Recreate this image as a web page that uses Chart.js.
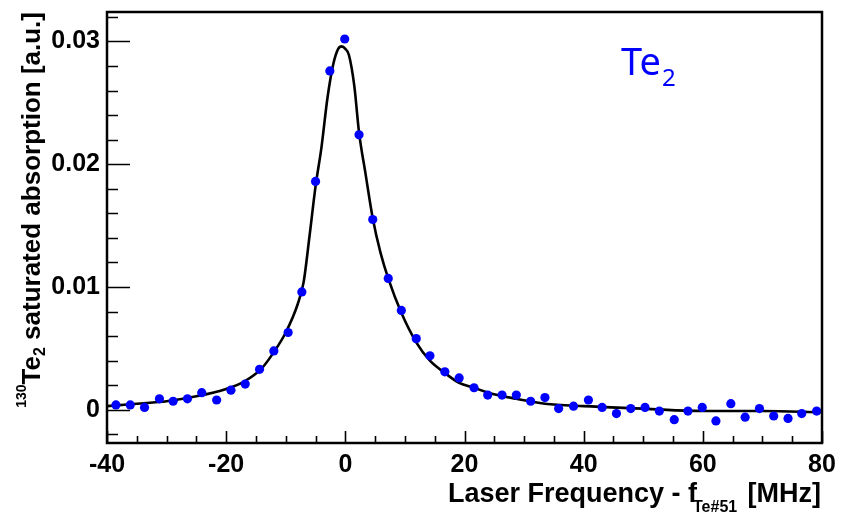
<!DOCTYPE html>
<html>
<head>
<meta charset="utf-8">
<script src="https://cdn.jsdelivr.net/npm/chart.js@4.4.0/dist/chart.umd.min.js"></script>
<style>
  html, body { margin: 0; padding: 0; background: #fff; }
  #wrap { width: 845px; height: 519px; }
</style>
</head>
<body>
<div id="wrap"><canvas id="chart" width="845" height="519"></canvas></div>
<script>
// measured points (frequency offset in MHz, absorption in a.u.)
const freq = [-38.5, -36.1, -33.7, -31.2, -28.9, -26.5, -24.1, -21.6, -19.2, -16.8,
  -14.4, -12.0, -9.6, -7.3, -5.0, -2.6, -0.1, 2.3, 4.6, 7.2,
  9.4, 11.9, 14.2, 16.7, 19.1, 21.6, 23.9, 26.3, 28.7, 31.1,
  33.5, 35.8, 38.3, 40.8, 43.1, 45.5, 47.9, 50.3, 52.7, 55.2,
  57.5, 59.9, 62.2, 64.7, 67.1, 69.5, 71.9, 74.3, 76.6, 79.1];
const absorption = [0.0004, 0.0004, 0.0002, 0.0009, 0.0007, 0.0009, 0.0014, 0.0008, 0.0016, 0.0021,
  0.0033, 0.0048, 0.0063, 0.0096, 0.0186, 0.0276, 0.0302, 0.0224, 0.0155, 0.0107,
  0.0081, 0.0058, 0.0044, 0.0031, 0.0026, 0.0018, 0.0012, 0.0012, 0.0012, 0.0007,
  0.0010, 0.0001, 0.0003, 0.0008, 0.0002, -0.0003, 0.0001, 0.0002, -0.0001, -0.0008,
  -0.0001, 0.0002, -0.0009, 0.0005, -0.0006, 0.0001, -0.0005, -0.0007, -0.0003, -0.0001];

// fit curve
const fitFreq = [-40, -35, -30, -25, -20, -17, -14, -12, -10, -8, -7, -6, -5, -4, -3, -2, -1.2, -0.6, 0, 0.6,
  1.5, 2.3, 3.4, 4.6, 5.9, 7.2, 9.4, 11.9, 14.2, 16.7, 19.1, 21.6, 24, 28.7, 33.5, 40, 50, 60, 70, 80];
const fitAbs = [0.0003, 0.0005, 0.0007, 0.0011, 0.0017, 0.0023, 0.0034, 0.0047, 0.0063, 0.0086,
  0.0104, 0.0142, 0.0182, 0.0214, 0.0254, 0.0282, 0.0294, 0.0296, 0.0294, 0.0289,
  0.0264, 0.0226, 0.0192, 0.0156, 0.0128, 0.0107, 0.0079, 0.0055, 0.0040, 0.0030,
  0.0022, 0.0018, 0.0014, 0.0009, 0.0005, 0.0003, 0.0001, -0.0001, -0.0001, -0.0002];

const xTicks = [-40, -20, 0, 20, 40, 60, 80];
const yTicks = [0, 0.01, 0.02, 0.03];

const fam = '"Liberation Sans", Arial, Helvetica, sans-serif';

// ROOT style frame with inward ticks + axis titles
const frameTicks = {
  id: 'frameTicks',
  afterDraw(chart) {
    const { ctx, chartArea: a, scales: { x, y } } = chart;
    ctx.save();
    ctx.strokeStyle = '#000';
    ctx.lineWidth = 1.6;
    ctx.beginPath();
    for (let v = -40; v <= 80; v += 5) {
      const px = Math.round(x.getPixelForValue(v)) + 0.5;
      const len = xTicks.includes(v) ? 12 : 7;
      ctx.moveTo(px, a.bottom);
      ctx.lineTo(px, a.bottom - len);
    }
    for (let i = -1; i <= 16; i++) {
      const py = Math.round(y.getPixelForValue(i * 0.002)) + 0.5;
      const len = i % 5 === 0 ? 23 : 11;
      ctx.moveTo(a.left, py);
      ctx.lineTo(a.left + len, py);
    }
    ctx.stroke();
    ctx.lineWidth = 2.5;
    ctx.strokeRect(a.left, a.top, a.right - a.left, a.bottom - a.top);

    // x title
    ctx.fillStyle = '#000';
    ctx.textBaseline = 'alphabetic';
    ctx.textAlign = 'right';
    ctx.font = 'bold 27px ' + fam;
    ctx.fillText('Laser Frequency - f', 697, 502);
    ctx.fillText('[MHz]', 821, 502);
    ctx.font = 'bold 16px ' + fam;
    ctx.textAlign = 'left';
    ctx.fillText('Te#51', 693, 512);

    // y title (rotated)
    ctx.save();
    ctx.translate(40, 0);
    ctx.rotate(-Math.PI / 2);
    const big = 'bold 26px ' + fam, small = 'bold 14px ' + fam, sub = 'bold 16px ' + fam;
    const parts = [
      { t: '130', f: small, dy: -14 },
      { t: 'Te', f: big, dy: 0 },
      { t: '2', f: sub, dy: 5 },
      { t: ' saturated absorption [a.u.]', f: big, dy: 0 }
    ];
    let total = 0;
    parts.forEach(p => { ctx.font = p.f; p.w = ctx.measureText(p.t).width; total += p.w; });
    let u = -12 - total;
    ctx.textAlign = 'left';
    parts.forEach(p => { ctx.font = p.f; ctx.fillText(p.t, u, p.dy); u += p.w; });
    ctx.restore();

    // Te2 label
    ctx.fillStyle = '#0000ff';
    ctx.font = '38px "Noto Sans", "Open Sans", sans-serif';
    ctx.textAlign = 'left';
    ctx.fillText('Te', 621, 75);
    const wTe = ctx.measureText('Te').width;
    ctx.font = '24px "Noto Sans", "Open Sans", sans-serif';
    ctx.fillText('2', 621 + wTe + 1, 86);
    ctx.restore();
  }
};

const ctx = document.getElementById('chart').getContext('2d');
const myChart = new Chart(ctx, {
  type: 'scatter',
  data: {
    datasets: [
      {
        label: 'data',
        data: freq.map((f, i) => ({ x: f, y: absorption[i] })),
        backgroundColor: '#0000ff',
        borderWidth: 0,
        pointRadius: 4.6
      },
      {
        label: 'fit',
        data: fitFreq.map((f, i) => ({ x: f, y: fitAbs[i] })),
        showLine: true,
        borderColor: '#000',
        borderWidth: 2.6,
        pointRadius: 0,
        cubicInterpolationMode: 'monotone'
      }
    ]
  },
  options: {
    responsive: false,
    animation: false,
    layout: { padding: { left: 0, right: 23, top: 12, bottom: 0 } },
    plugins: { legend: { display: false }, tooltip: { enabled: false } },
    scales: {
      x: {
        type: 'linear',
        min: -40,
        max: 80,
        grid: { display: false, drawTicks: false },
        border: { display: false },
        afterBuildTicks: s => { s.ticks = xTicks.map(v => ({ value: v })); },
        ticks: {
          color: '#000',
          font: { family: fam, size: 25, weight: 'bold' },
          padding: 7,
          maxRotation: 0,
          autoSkip: false
        },
        afterFit: s => { s.height = 76; s.paddingLeft = 0; s.paddingRight = 0; }
      },
      y: {
        type: 'linear',
        min: -0.0027,
        max: 0.0324,
        grid: { display: false, drawTicks: false },
        border: { display: false },
        afterBuildTicks: s => { s.ticks = yTicks.map(v => ({ value: v })); },
        ticks: {
          color: '#000',
          font: { family: fam, size: 25, weight: 'bold' },
          padding: 7,
          callback: v => (Math.abs(v) < 1e-9 ? '0' : v.toFixed(2))
        },
        afterFit: s => { s.width = 107; s.paddingTop = 0; s.paddingBottom = 0; }
      }
    }
  },
  plugins: [frameTicks]
});
</script>
</body>
</html>
